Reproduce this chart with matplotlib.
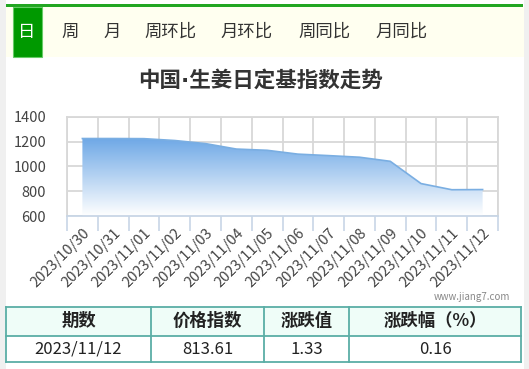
import numpy as np
import matplotlib
matplotlib.use("Agg")
import matplotlib.pyplot as plt
from matplotlib.patches import Rectangle, Polygon

plt.rcParams["font.family"] = ["Noto Sans CJK SC", "DejaVu Sans"]

# ── Dados ────────────────────────────────────────────────────────────────────
datas = ["2023/10/30", "2023/10/31", "2023/11/01", "2023/11/02", "2023/11/03",
         "2023/11/04", "2023/11/05", "2023/11/06", "2023/11/07", "2023/11/08",
         "2023/11/09", "2023/11/10", "2023/11/11", "2023/11/12"]
indices = [1226, 1226, 1225, 1210, 1185, 1141, 1131, 1100, 1088, 1075,
           1042, 862, 812.28, 813.61]
abas = ["日", "周", "月", "周环比", "月环比", "周同比", "月同比"]
abas_x = [27, 70, 112, 170, 247, 324, 402]
cabecalho = ["期数", "价格指数", "涨跌值", "涨跌幅（%）"]
linha = ["2023/11/12", "813.61", "1.33", "0.16"]
colunas_x = [6, 151, 264, 349, 521]

W, H = 529, 369
fig = plt.figure(figsize=(W / 100, H / 100), dpi=100)
fig.patch.set_facecolor("white")

# eixo de fundo em pixels
bg = fig.add_axes([0, 0, 1, 1])
bg.set_xlim(0, W)
bg.set_ylim(H, 0)
bg.axis("off")

bg.add_patch(Rectangle((0, 0), 6, H, color="#f0f0f0", lw=0))
bg.add_patch(Rectangle((524, 0), 5, H, color="#f0f0f0", lw=0))
bg.add_patch(Rectangle((6, 7), 518, 50, color="#fffff0", lw=0))
bg.add_patch(Rectangle((6, 4), 517, 2.5, color="#22a622", lw=0))
bg.add_patch(Rectangle((12.5, 7), 29.5, 49.5, facecolor="#009900",
                       edgecolor="#66cc66", lw=0.8))

for i, (txt, x) in enumerate(zip(abas, abas_x)):
    bg.text(x, 32, txt, ha="center", va="center", fontsize=12.5,
            color="white" if i == 0 else "#333333")

# DejaVu primeiro para o ponto médio estreito; CJK para o resto
bg.text(260, 80, "中国·生姜日定基指数走势", ha="center", va="center",
        fontsize=15.5, fontweight="bold", color="#333333",
        family=["DejaVu Sans", "Noto Sans CJK SC"])
bg.text(510, 297, "www.jiang7.com", ha="right", va="center",
        fontsize=7, color="#888888")

# tabela
borda = "#5aaea6"
bg.add_patch(Rectangle((6, 307), 515, 28.5, facecolor="#effdf8", lw=0))
for y in (307, 335.5, 361.5):
    bg.plot([6, 521], [y, y], color=borda, lw=1.3)
for x in colunas_x:
    bg.plot([x, x], [307, 361.5], color=borda, lw=1.3)
for j in range(4):
    cx = (colunas_x[j] + colunas_x[j + 1]) / 2
    bg.text(cx, 321, cabecalho[j], ha="center", va="center", fontsize=12.5,
            fontweight="bold", color="#222222")
    bg.text(cx, 349, linha[j], ha="center", va="center", fontsize=12,
            color="#222222")

# ── Gráfico ──────────────────────────────────────────────────────────────────
x0, x1, yt, yb = 67, 498, 117, 216
ax = fig.add_axes([x0 / W, 1 - yb / H, (x1 - x0) / W, (yb - yt) / H])
ax.set_facecolor("none")
n = len(datas)
xs = np.arange(n)
ax.set_xlim(-0.5, n - 0.5)
ax.set_ylim(600, 1400)

# preenchimento em degradê
grad = np.linspace(0, 1, 256).reshape(-1, 1)
cmap = matplotlib.colors.LinearSegmentedColormap.from_list(
    "g", ["#ffffff", "#6ea8e6"])
img = ax.imshow(grad, cmap=cmap, aspect="auto", origin="lower",
                extent=[-0.5, n - 0.5, 600, max(indices)], zorder=1)
poly = Polygon(list(zip(xs, indices)) + [(xs[-1], 600), (xs[0], 600)],
               closed=True, transform=ax.transData)
img.set_clip_path(poly)
ax.plot(xs, indices, color="#7aaee2", lw=1.2, zorder=2)

ax.set_yticks([600, 800, 1000, 1200, 1400])
ax.set_xticks(xs)
ax.set_xticklabels(datas, rotation=45, ha="right", rotation_mode="anchor")
ax.set_xticks(np.arange(-0.5, n, 1), minor=True)
ax.tick_params(axis="x", which="major", length=0, pad=7, labelsize=10.5,
               labelcolor="#444444")
ax.tick_params(axis="x", which="minor", length=11, width=1.2, color="#c8d6e6")
ax.tick_params(axis="y", length=0, pad=15, labelsize=10.5, labelcolor="#444444")
ax.grid(axis="x", which="minor", color="#d8d8d8", lw=1.3, zorder=0)
ax.grid(axis="y", which="major", color="#d8d8d8", lw=1.3, zorder=0)
ax.set_axisbelow(True)
for s in ("top", "left", "right"):
    ax.spines[s].set_color("#d8d8d8")
    ax.spines[s].set_linewidth(1.3)
ax.spines["bottom"].set_color("#c8d6e6")
ax.spines["bottom"].set_linewidth(1.3)

fig.savefig("out.png", dpi=100)
